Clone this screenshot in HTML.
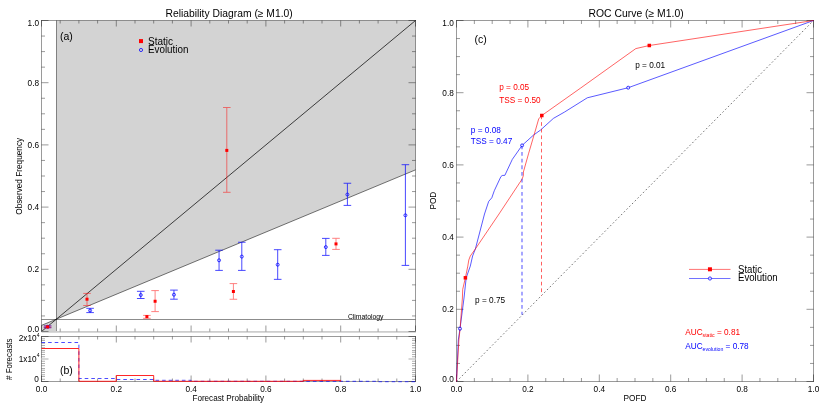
<!DOCTYPE html>
<html><head><meta charset="utf-8"><title>Reliability and ROC</title>
<style>
html,body{margin:0;padding:0;background:#fff;}
svg{display:block;font-family:"Liberation Sans",sans-serif;will-change:transform;}
</style></head>
<body>
<svg width="830" height="415" viewBox="0 0 830 415">
<rect width="830" height="415" fill="#fff"/>
<polygon points="56.27,20.5 415.5,20.5 415.5,169.86 56.27,319.22" fill="#d3d3d3"/>
<polygon points="41.5,325.36 56.27,319.22 56.27,331.5 41.5,331.5" fill="#d3d3d3"/>
<line x1="56.50" y1="20.50" x2="56.50" y2="331.50" stroke="#000" stroke-width="1" stroke-opacity="0.42"/>
<line x1="41.50" y1="319.50" x2="415.50" y2="319.50" stroke="#000" stroke-width="1" stroke-opacity="0.45"/>
<line x1="41.50" y1="325.36" x2="415.50" y2="169.86" stroke="#000" stroke-width="0.9" stroke-opacity="0.6"/>
<line x1="41.50" y1="331.50" x2="415.50" y2="20.50" stroke="#000" stroke-width="0.9" stroke-opacity="0.8"/>
<line x1="41.00" y1="20.50" x2="416.00" y2="20.50" stroke="#020202" stroke-width="1" stroke-opacity="0.4" />
<line x1="41.50" y1="20.50" x2="41.50" y2="331.50" stroke="#020202" stroke-width="1" stroke-opacity="0.4" />
<line x1="415.50" y1="20.50" x2="415.50" y2="331.50" stroke="#020202" stroke-width="1" stroke-opacity="0.4" />
<line x1="41.50" y1="331.90" x2="416.00" y2="331.90" stroke="#cdcdcd" stroke-width="1.8" />
<line x1="41.50" y1="331.50" x2="41.50" y2="325.50" stroke="#020202" stroke-width="1" stroke-opacity="0.4" />
<line x1="41.50" y1="20.50" x2="41.50" y2="26.50" stroke="#020202" stroke-width="1" stroke-opacity="0.4" />
<line x1="60.20" y1="331.50" x2="60.20" y2="328.50" stroke="#020202" stroke-width="1" stroke-opacity="0.4" />
<line x1="60.20" y1="20.50" x2="60.20" y2="23.50" stroke="#020202" stroke-width="1" stroke-opacity="0.4" />
<line x1="78.90" y1="331.50" x2="78.90" y2="328.50" stroke="#020202" stroke-width="1" stroke-opacity="0.4" />
<line x1="78.90" y1="20.50" x2="78.90" y2="23.50" stroke="#020202" stroke-width="1" stroke-opacity="0.4" />
<line x1="97.60" y1="331.50" x2="97.60" y2="328.50" stroke="#020202" stroke-width="1" stroke-opacity="0.4" />
<line x1="97.60" y1="20.50" x2="97.60" y2="23.50" stroke="#020202" stroke-width="1" stroke-opacity="0.4" />
<line x1="116.30" y1="331.50" x2="116.30" y2="325.50" stroke="#020202" stroke-width="1" stroke-opacity="0.4" />
<line x1="116.30" y1="20.50" x2="116.30" y2="26.50" stroke="#020202" stroke-width="1" stroke-opacity="0.4" />
<line x1="135.00" y1="331.50" x2="135.00" y2="328.50" stroke="#020202" stroke-width="1" stroke-opacity="0.4" />
<line x1="135.00" y1="20.50" x2="135.00" y2="23.50" stroke="#020202" stroke-width="1" stroke-opacity="0.4" />
<line x1="153.70" y1="331.50" x2="153.70" y2="328.50" stroke="#020202" stroke-width="1" stroke-opacity="0.4" />
<line x1="153.70" y1="20.50" x2="153.70" y2="23.50" stroke="#020202" stroke-width="1" stroke-opacity="0.4" />
<line x1="172.40" y1="331.50" x2="172.40" y2="328.50" stroke="#020202" stroke-width="1" stroke-opacity="0.4" />
<line x1="172.40" y1="20.50" x2="172.40" y2="23.50" stroke="#020202" stroke-width="1" stroke-opacity="0.4" />
<line x1="191.10" y1="331.50" x2="191.10" y2="325.50" stroke="#020202" stroke-width="1" stroke-opacity="0.4" />
<line x1="191.10" y1="20.50" x2="191.10" y2="26.50" stroke="#020202" stroke-width="1" stroke-opacity="0.4" />
<line x1="209.80" y1="331.50" x2="209.80" y2="328.50" stroke="#020202" stroke-width="1" stroke-opacity="0.4" />
<line x1="209.80" y1="20.50" x2="209.80" y2="23.50" stroke="#020202" stroke-width="1" stroke-opacity="0.4" />
<line x1="228.50" y1="331.50" x2="228.50" y2="328.50" stroke="#020202" stroke-width="1" stroke-opacity="0.4" />
<line x1="228.50" y1="20.50" x2="228.50" y2="23.50" stroke="#020202" stroke-width="1" stroke-opacity="0.4" />
<line x1="247.20" y1="331.50" x2="247.20" y2="328.50" stroke="#020202" stroke-width="1" stroke-opacity="0.4" />
<line x1="247.20" y1="20.50" x2="247.20" y2="23.50" stroke="#020202" stroke-width="1" stroke-opacity="0.4" />
<line x1="265.90" y1="331.50" x2="265.90" y2="325.50" stroke="#020202" stroke-width="1" stroke-opacity="0.4" />
<line x1="265.90" y1="20.50" x2="265.90" y2="26.50" stroke="#020202" stroke-width="1" stroke-opacity="0.4" />
<line x1="284.60" y1="331.50" x2="284.60" y2="328.50" stroke="#020202" stroke-width="1" stroke-opacity="0.4" />
<line x1="284.60" y1="20.50" x2="284.60" y2="23.50" stroke="#020202" stroke-width="1" stroke-opacity="0.4" />
<line x1="303.30" y1="331.50" x2="303.30" y2="328.50" stroke="#020202" stroke-width="1" stroke-opacity="0.4" />
<line x1="303.30" y1="20.50" x2="303.30" y2="23.50" stroke="#020202" stroke-width="1" stroke-opacity="0.4" />
<line x1="322.00" y1="331.50" x2="322.00" y2="328.50" stroke="#020202" stroke-width="1" stroke-opacity="0.4" />
<line x1="322.00" y1="20.50" x2="322.00" y2="23.50" stroke="#020202" stroke-width="1" stroke-opacity="0.4" />
<line x1="340.70" y1="331.50" x2="340.70" y2="325.50" stroke="#020202" stroke-width="1" stroke-opacity="0.4" />
<line x1="340.70" y1="20.50" x2="340.70" y2="26.50" stroke="#020202" stroke-width="1" stroke-opacity="0.4" />
<line x1="359.40" y1="331.50" x2="359.40" y2="328.50" stroke="#020202" stroke-width="1" stroke-opacity="0.4" />
<line x1="359.40" y1="20.50" x2="359.40" y2="23.50" stroke="#020202" stroke-width="1" stroke-opacity="0.4" />
<line x1="378.10" y1="331.50" x2="378.10" y2="328.50" stroke="#020202" stroke-width="1" stroke-opacity="0.4" />
<line x1="378.10" y1="20.50" x2="378.10" y2="23.50" stroke="#020202" stroke-width="1" stroke-opacity="0.4" />
<line x1="396.80" y1="331.50" x2="396.80" y2="328.50" stroke="#020202" stroke-width="1" stroke-opacity="0.4" />
<line x1="396.80" y1="20.50" x2="396.80" y2="23.50" stroke="#020202" stroke-width="1" stroke-opacity="0.4" />
<line x1="415.50" y1="331.50" x2="415.50" y2="325.50" stroke="#020202" stroke-width="1" stroke-opacity="0.4" />
<line x1="415.50" y1="20.50" x2="415.50" y2="26.50" stroke="#020202" stroke-width="1" stroke-opacity="0.4" />
<line x1="41.50" y1="331.50" x2="48.50" y2="331.50" stroke="#020202" stroke-width="1" stroke-opacity="0.4" />
<line x1="415.50" y1="331.50" x2="408.50" y2="331.50" stroke="#020202" stroke-width="1" stroke-opacity="0.4" />
<line x1="41.50" y1="315.95" x2="45.00" y2="315.95" stroke="#020202" stroke-width="1" stroke-opacity="0.4" />
<line x1="415.50" y1="315.95" x2="412.00" y2="315.95" stroke="#020202" stroke-width="1" stroke-opacity="0.4" />
<line x1="41.50" y1="300.40" x2="45.00" y2="300.40" stroke="#020202" stroke-width="1" stroke-opacity="0.4" />
<line x1="415.50" y1="300.40" x2="412.00" y2="300.40" stroke="#020202" stroke-width="1" stroke-opacity="0.4" />
<line x1="41.50" y1="284.85" x2="45.00" y2="284.85" stroke="#020202" stroke-width="1" stroke-opacity="0.4" />
<line x1="415.50" y1="284.85" x2="412.00" y2="284.85" stroke="#020202" stroke-width="1" stroke-opacity="0.4" />
<line x1="41.50" y1="269.30" x2="48.50" y2="269.30" stroke="#020202" stroke-width="1" stroke-opacity="0.4" />
<line x1="415.50" y1="269.30" x2="408.50" y2="269.30" stroke="#020202" stroke-width="1" stroke-opacity="0.4" />
<line x1="41.50" y1="253.75" x2="45.00" y2="253.75" stroke="#020202" stroke-width="1" stroke-opacity="0.4" />
<line x1="415.50" y1="253.75" x2="412.00" y2="253.75" stroke="#020202" stroke-width="1" stroke-opacity="0.4" />
<line x1="41.50" y1="238.20" x2="45.00" y2="238.20" stroke="#020202" stroke-width="1" stroke-opacity="0.4" />
<line x1="415.50" y1="238.20" x2="412.00" y2="238.20" stroke="#020202" stroke-width="1" stroke-opacity="0.4" />
<line x1="41.50" y1="222.65" x2="45.00" y2="222.65" stroke="#020202" stroke-width="1" stroke-opacity="0.4" />
<line x1="415.50" y1="222.65" x2="412.00" y2="222.65" stroke="#020202" stroke-width="1" stroke-opacity="0.4" />
<line x1="41.50" y1="207.10" x2="48.50" y2="207.10" stroke="#020202" stroke-width="1" stroke-opacity="0.4" />
<line x1="415.50" y1="207.10" x2="408.50" y2="207.10" stroke="#020202" stroke-width="1" stroke-opacity="0.4" />
<line x1="41.50" y1="191.55" x2="45.00" y2="191.55" stroke="#020202" stroke-width="1" stroke-opacity="0.4" />
<line x1="415.50" y1="191.55" x2="412.00" y2="191.55" stroke="#020202" stroke-width="1" stroke-opacity="0.4" />
<line x1="41.50" y1="176.00" x2="45.00" y2="176.00" stroke="#020202" stroke-width="1" stroke-opacity="0.4" />
<line x1="415.50" y1="176.00" x2="412.00" y2="176.00" stroke="#020202" stroke-width="1" stroke-opacity="0.4" />
<line x1="41.50" y1="160.45" x2="45.00" y2="160.45" stroke="#020202" stroke-width="1" stroke-opacity="0.4" />
<line x1="415.50" y1="160.45" x2="412.00" y2="160.45" stroke="#020202" stroke-width="1" stroke-opacity="0.4" />
<line x1="41.50" y1="144.90" x2="48.50" y2="144.90" stroke="#020202" stroke-width="1" stroke-opacity="0.4" />
<line x1="415.50" y1="144.90" x2="408.50" y2="144.90" stroke="#020202" stroke-width="1" stroke-opacity="0.4" />
<line x1="41.50" y1="129.35" x2="45.00" y2="129.35" stroke="#020202" stroke-width="1" stroke-opacity="0.4" />
<line x1="415.50" y1="129.35" x2="412.00" y2="129.35" stroke="#020202" stroke-width="1" stroke-opacity="0.4" />
<line x1="41.50" y1="113.80" x2="45.00" y2="113.80" stroke="#020202" stroke-width="1" stroke-opacity="0.4" />
<line x1="415.50" y1="113.80" x2="412.00" y2="113.80" stroke="#020202" stroke-width="1" stroke-opacity="0.4" />
<line x1="41.50" y1="98.25" x2="45.00" y2="98.25" stroke="#020202" stroke-width="1" stroke-opacity="0.4" />
<line x1="415.50" y1="98.25" x2="412.00" y2="98.25" stroke="#020202" stroke-width="1" stroke-opacity="0.4" />
<line x1="41.50" y1="82.70" x2="48.50" y2="82.70" stroke="#020202" stroke-width="1" stroke-opacity="0.4" />
<line x1="415.50" y1="82.70" x2="408.50" y2="82.70" stroke="#020202" stroke-width="1" stroke-opacity="0.4" />
<line x1="41.50" y1="67.15" x2="45.00" y2="67.15" stroke="#020202" stroke-width="1" stroke-opacity="0.4" />
<line x1="415.50" y1="67.15" x2="412.00" y2="67.15" stroke="#020202" stroke-width="1" stroke-opacity="0.4" />
<line x1="41.50" y1="51.60" x2="45.00" y2="51.60" stroke="#020202" stroke-width="1" stroke-opacity="0.4" />
<line x1="415.50" y1="51.60" x2="412.00" y2="51.60" stroke="#020202" stroke-width="1" stroke-opacity="0.4" />
<line x1="41.50" y1="36.05" x2="45.00" y2="36.05" stroke="#020202" stroke-width="1" stroke-opacity="0.4" />
<line x1="415.50" y1="36.05" x2="412.00" y2="36.05" stroke="#020202" stroke-width="1" stroke-opacity="0.4" />
<line x1="41.50" y1="20.50" x2="48.50" y2="20.50" stroke="#020202" stroke-width="1" stroke-opacity="0.4" />
<line x1="415.50" y1="20.50" x2="408.50" y2="20.50" stroke="#020202" stroke-width="1" stroke-opacity="0.4" />
<text transform="translate(39.00 331.80) scale(0.96 1.08)" font-size="8.6" text-anchor="end" fill="#000">0.0</text>
<text transform="translate(39.00 272.30) scale(0.96 1.08)" font-size="8.6" text-anchor="end" fill="#000">0.2</text>
<text transform="translate(39.00 210.10) scale(0.96 1.08)" font-size="8.6" text-anchor="end" fill="#000">0.4</text>
<text transform="translate(39.00 147.90) scale(0.96 1.08)" font-size="8.6" text-anchor="end" fill="#000">0.6</text>
<text transform="translate(39.00 85.70) scale(0.96 1.08)" font-size="8.6" text-anchor="end" fill="#000">0.8</text>
<text transform="translate(39.00 25.60) scale(0.96 1.08)" font-size="8.6" text-anchor="end" fill="#000">1.0</text>
<line x1="41.00" y1="336.50" x2="416.00" y2="336.50" stroke="#020202" stroke-width="1" stroke-opacity="0.4" />
<line x1="41.50" y1="336.50" x2="41.50" y2="381.50" stroke="#020202" stroke-width="1" stroke-opacity="0.4" />
<line x1="415.50" y1="336.50" x2="415.50" y2="381.50" stroke="#020202" stroke-width="1" stroke-opacity="0.4" />
<line x1="41.00" y1="381.50" x2="416.00" y2="381.50" stroke="#020202" stroke-width="1" stroke-opacity="0.4" />
<line x1="41.50" y1="381.50" x2="41.50" y2="375.50" stroke="#020202" stroke-width="1" stroke-opacity="0.4" />
<line x1="41.50" y1="336.50" x2="41.50" y2="342.50" stroke="#020202" stroke-width="1" stroke-opacity="0.4" />
<line x1="60.20" y1="381.50" x2="60.20" y2="378.50" stroke="#020202" stroke-width="1" stroke-opacity="0.4" />
<line x1="60.20" y1="336.50" x2="60.20" y2="339.50" stroke="#020202" stroke-width="1" stroke-opacity="0.4" />
<line x1="78.90" y1="381.50" x2="78.90" y2="378.50" stroke="#020202" stroke-width="1" stroke-opacity="0.4" />
<line x1="78.90" y1="336.50" x2="78.90" y2="339.50" stroke="#020202" stroke-width="1" stroke-opacity="0.4" />
<line x1="97.60" y1="381.50" x2="97.60" y2="378.50" stroke="#020202" stroke-width="1" stroke-opacity="0.4" />
<line x1="97.60" y1="336.50" x2="97.60" y2="339.50" stroke="#020202" stroke-width="1" stroke-opacity="0.4" />
<line x1="116.30" y1="381.50" x2="116.30" y2="375.50" stroke="#020202" stroke-width="1" stroke-opacity="0.4" />
<line x1="116.30" y1="336.50" x2="116.30" y2="342.50" stroke="#020202" stroke-width="1" stroke-opacity="0.4" />
<line x1="135.00" y1="381.50" x2="135.00" y2="378.50" stroke="#020202" stroke-width="1" stroke-opacity="0.4" />
<line x1="135.00" y1="336.50" x2="135.00" y2="339.50" stroke="#020202" stroke-width="1" stroke-opacity="0.4" />
<line x1="153.70" y1="381.50" x2="153.70" y2="378.50" stroke="#020202" stroke-width="1" stroke-opacity="0.4" />
<line x1="153.70" y1="336.50" x2="153.70" y2="339.50" stroke="#020202" stroke-width="1" stroke-opacity="0.4" />
<line x1="172.40" y1="381.50" x2="172.40" y2="378.50" stroke="#020202" stroke-width="1" stroke-opacity="0.4" />
<line x1="172.40" y1="336.50" x2="172.40" y2="339.50" stroke="#020202" stroke-width="1" stroke-opacity="0.4" />
<line x1="191.10" y1="381.50" x2="191.10" y2="375.50" stroke="#020202" stroke-width="1" stroke-opacity="0.4" />
<line x1="191.10" y1="336.50" x2="191.10" y2="342.50" stroke="#020202" stroke-width="1" stroke-opacity="0.4" />
<line x1="209.80" y1="381.50" x2="209.80" y2="378.50" stroke="#020202" stroke-width="1" stroke-opacity="0.4" />
<line x1="209.80" y1="336.50" x2="209.80" y2="339.50" stroke="#020202" stroke-width="1" stroke-opacity="0.4" />
<line x1="228.50" y1="381.50" x2="228.50" y2="378.50" stroke="#020202" stroke-width="1" stroke-opacity="0.4" />
<line x1="228.50" y1="336.50" x2="228.50" y2="339.50" stroke="#020202" stroke-width="1" stroke-opacity="0.4" />
<line x1="247.20" y1="381.50" x2="247.20" y2="378.50" stroke="#020202" stroke-width="1" stroke-opacity="0.4" />
<line x1="247.20" y1="336.50" x2="247.20" y2="339.50" stroke="#020202" stroke-width="1" stroke-opacity="0.4" />
<line x1="265.90" y1="381.50" x2="265.90" y2="375.50" stroke="#020202" stroke-width="1" stroke-opacity="0.4" />
<line x1="265.90" y1="336.50" x2="265.90" y2="342.50" stroke="#020202" stroke-width="1" stroke-opacity="0.4" />
<line x1="284.60" y1="381.50" x2="284.60" y2="378.50" stroke="#020202" stroke-width="1" stroke-opacity="0.4" />
<line x1="284.60" y1="336.50" x2="284.60" y2="339.50" stroke="#020202" stroke-width="1" stroke-opacity="0.4" />
<line x1="303.30" y1="381.50" x2="303.30" y2="378.50" stroke="#020202" stroke-width="1" stroke-opacity="0.4" />
<line x1="303.30" y1="336.50" x2="303.30" y2="339.50" stroke="#020202" stroke-width="1" stroke-opacity="0.4" />
<line x1="322.00" y1="381.50" x2="322.00" y2="378.50" stroke="#020202" stroke-width="1" stroke-opacity="0.4" />
<line x1="322.00" y1="336.50" x2="322.00" y2="339.50" stroke="#020202" stroke-width="1" stroke-opacity="0.4" />
<line x1="340.70" y1="381.50" x2="340.70" y2="375.50" stroke="#020202" stroke-width="1" stroke-opacity="0.4" />
<line x1="340.70" y1="336.50" x2="340.70" y2="342.50" stroke="#020202" stroke-width="1" stroke-opacity="0.4" />
<line x1="359.40" y1="381.50" x2="359.40" y2="378.50" stroke="#020202" stroke-width="1" stroke-opacity="0.4" />
<line x1="359.40" y1="336.50" x2="359.40" y2="339.50" stroke="#020202" stroke-width="1" stroke-opacity="0.4" />
<line x1="378.10" y1="381.50" x2="378.10" y2="378.50" stroke="#020202" stroke-width="1" stroke-opacity="0.4" />
<line x1="378.10" y1="336.50" x2="378.10" y2="339.50" stroke="#020202" stroke-width="1" stroke-opacity="0.4" />
<line x1="396.80" y1="381.50" x2="396.80" y2="378.50" stroke="#020202" stroke-width="1" stroke-opacity="0.4" />
<line x1="396.80" y1="336.50" x2="396.80" y2="339.50" stroke="#020202" stroke-width="1" stroke-opacity="0.4" />
<line x1="415.50" y1="381.50" x2="415.50" y2="375.50" stroke="#020202" stroke-width="1" stroke-opacity="0.4" />
<line x1="415.50" y1="336.50" x2="415.50" y2="342.50" stroke="#020202" stroke-width="1" stroke-opacity="0.4" />
<line x1="41.50" y1="381.50" x2="48.50" y2="381.50" stroke="#020202" stroke-width="1" stroke-opacity="0.4" />
<line x1="415.50" y1="381.50" x2="408.50" y2="381.50" stroke="#020202" stroke-width="1" stroke-opacity="0.4" />
<line x1="41.50" y1="379.25" x2="45.00" y2="379.25" stroke="#020202" stroke-width="0.8" stroke-opacity="0.4" />
<line x1="415.50" y1="379.25" x2="412.00" y2="379.25" stroke="#020202" stroke-width="0.8" stroke-opacity="0.4" />
<line x1="41.50" y1="376.50" x2="45.00" y2="376.50" stroke="#020202" stroke-width="0.8" stroke-opacity="0.4" />
<line x1="415.50" y1="376.50" x2="412.00" y2="376.50" stroke="#020202" stroke-width="0.8" stroke-opacity="0.4" />
<line x1="41.50" y1="374.75" x2="45.00" y2="374.75" stroke="#020202" stroke-width="0.8" stroke-opacity="0.4" />
<line x1="415.50" y1="374.75" x2="412.00" y2="374.75" stroke="#020202" stroke-width="0.8" stroke-opacity="0.4" />
<line x1="41.50" y1="372.50" x2="45.00" y2="372.50" stroke="#020202" stroke-width="0.8" stroke-opacity="0.4" />
<line x1="415.50" y1="372.50" x2="412.00" y2="372.50" stroke="#020202" stroke-width="0.8" stroke-opacity="0.4" />
<line x1="41.50" y1="370.25" x2="45.00" y2="370.25" stroke="#020202" stroke-width="0.8" stroke-opacity="0.4" />
<line x1="415.50" y1="370.25" x2="412.00" y2="370.25" stroke="#020202" stroke-width="0.8" stroke-opacity="0.4" />
<line x1="41.50" y1="368.50" x2="45.00" y2="368.50" stroke="#020202" stroke-width="0.8" stroke-opacity="0.4" />
<line x1="415.50" y1="368.50" x2="412.00" y2="368.50" stroke="#020202" stroke-width="0.8" stroke-opacity="0.4" />
<line x1="41.50" y1="365.75" x2="45.00" y2="365.75" stroke="#020202" stroke-width="0.8" stroke-opacity="0.4" />
<line x1="415.50" y1="365.75" x2="412.00" y2="365.75" stroke="#020202" stroke-width="0.8" stroke-opacity="0.4" />
<line x1="41.50" y1="363.50" x2="45.00" y2="363.50" stroke="#020202" stroke-width="0.8" stroke-opacity="0.4" />
<line x1="415.50" y1="363.50" x2="412.00" y2="363.50" stroke="#020202" stroke-width="0.8" stroke-opacity="0.4" />
<line x1="41.50" y1="361.25" x2="45.00" y2="361.25" stroke="#020202" stroke-width="0.8" stroke-opacity="0.4" />
<line x1="415.50" y1="361.25" x2="412.00" y2="361.25" stroke="#020202" stroke-width="0.8" stroke-opacity="0.4" />
<line x1="41.50" y1="359.00" x2="48.50" y2="359.00" stroke="#cdcdcd" stroke-width="1.6" />
<line x1="415.50" y1="359.00" x2="408.50" y2="359.00" stroke="#cdcdcd" stroke-width="1.6" />
<line x1="41.50" y1="356.75" x2="45.00" y2="356.75" stroke="#020202" stroke-width="0.8" stroke-opacity="0.4" />
<line x1="415.50" y1="356.75" x2="412.00" y2="356.75" stroke="#020202" stroke-width="0.8" stroke-opacity="0.4" />
<line x1="41.50" y1="354.50" x2="45.00" y2="354.50" stroke="#020202" stroke-width="0.8" stroke-opacity="0.4" />
<line x1="415.50" y1="354.50" x2="412.00" y2="354.50" stroke="#020202" stroke-width="0.8" stroke-opacity="0.4" />
<line x1="41.50" y1="352.25" x2="45.00" y2="352.25" stroke="#020202" stroke-width="0.8" stroke-opacity="0.4" />
<line x1="415.50" y1="352.25" x2="412.00" y2="352.25" stroke="#020202" stroke-width="0.8" stroke-opacity="0.4" />
<line x1="41.50" y1="350.50" x2="45.00" y2="350.50" stroke="#020202" stroke-width="0.8" stroke-opacity="0.4" />
<line x1="415.50" y1="350.50" x2="412.00" y2="350.50" stroke="#020202" stroke-width="0.8" stroke-opacity="0.4" />
<line x1="41.50" y1="347.75" x2="45.00" y2="347.75" stroke="#020202" stroke-width="0.8" stroke-opacity="0.4" />
<line x1="415.50" y1="347.75" x2="412.00" y2="347.75" stroke="#020202" stroke-width="0.8" stroke-opacity="0.4" />
<line x1="41.50" y1="345.50" x2="45.00" y2="345.50" stroke="#020202" stroke-width="0.8" stroke-opacity="0.4" />
<line x1="415.50" y1="345.50" x2="412.00" y2="345.50" stroke="#020202" stroke-width="0.8" stroke-opacity="0.4" />
<line x1="41.50" y1="343.25" x2="45.00" y2="343.25" stroke="#020202" stroke-width="0.8" stroke-opacity="0.4" />
<line x1="415.50" y1="343.25" x2="412.00" y2="343.25" stroke="#020202" stroke-width="0.8" stroke-opacity="0.4" />
<line x1="41.50" y1="340.50" x2="45.00" y2="340.50" stroke="#020202" stroke-width="0.8" stroke-opacity="0.4" />
<line x1="415.50" y1="340.50" x2="412.00" y2="340.50" stroke="#020202" stroke-width="0.8" stroke-opacity="0.4" />
<line x1="41.50" y1="338.75" x2="45.00" y2="338.75" stroke="#020202" stroke-width="0.8" stroke-opacity="0.4" />
<line x1="415.50" y1="338.75" x2="412.00" y2="338.75" stroke="#020202" stroke-width="0.8" stroke-opacity="0.4" />
<line x1="41.50" y1="336.50" x2="48.50" y2="336.50" stroke="#020202" stroke-width="1" stroke-opacity="0.4" />
<line x1="415.50" y1="336.50" x2="408.50" y2="336.50" stroke="#020202" stroke-width="1" stroke-opacity="0.4" />
<text transform="translate(41.50 392.10) scale(0.96 1)" font-size="8.6" text-anchor="middle" fill="#000">0.0</text>
<text transform="translate(116.30 392.10) scale(0.96 1)" font-size="8.6" text-anchor="middle" fill="#000">0.2</text>
<text transform="translate(191.10 392.10) scale(0.96 1)" font-size="8.6" text-anchor="middle" fill="#000">0.4</text>
<text transform="translate(265.90 392.10) scale(0.96 1)" font-size="8.6" text-anchor="middle" fill="#000">0.6</text>
<text transform="translate(340.70 392.10) scale(0.96 1)" font-size="8.6" text-anchor="middle" fill="#000">0.8</text>
<text transform="translate(415.50 392.10) scale(0.96 1)" font-size="8.6" text-anchor="middle" fill="#000">1.0</text>
<text transform="translate(228.30 401.00) scale(0.945 1)" font-size="8.6" text-anchor="middle" fill="#000">Forecast Probability</text>
<text transform="translate(21.50 176.30) rotate(-90) scale(0.96 1)" font-size="8.6" text-anchor="middle" fill="#000">Observed Frequency</text>
<text transform="translate(12.10 359.20) rotate(-90) scale(0.925 1)" font-size="8.6" text-anchor="middle" fill="#000"># Forecasts</text>
<text transform="translate(39.4 340.9) scale(0.96 1)" font-size="8.6" text-anchor="end" fill="#000">2x10<tspan font-size="5.2" dy="-4.1">4</tspan></text>
<text transform="translate(39.4 361.5) scale(0.96 1)" font-size="8.6" text-anchor="end" fill="#000">1x10<tspan font-size="5.2" dy="-4.1">4</tspan></text>
<text transform="translate(38.90 381.70) scale(0.96 1)" font-size="8.6" text-anchor="end" fill="#000">0</text>
<polyline points="41.50,342.50 78.90,342.50 78.90,378.50 116.30,378.50 116.30,379.50 153.70,379.50 153.70,380.30 191.10,380.30 191.10,381.30 228.50,381.30 228.50,381.30 265.90,381.30 265.90,381.30 303.30,381.30 303.30,381.30 340.70,381.30 340.70,381.30 378.10,381.30 378.10,381.70 415.50,381.70" fill="none" stroke="#0000ff" stroke-width="1" stroke-dasharray="3.6 3" opacity="0.7"/>
<polyline points="41.50,348.50 78.90,348.50 78.90,381.30 116.30,381.30 116.30,375.50 153.70,375.50 153.70,381.30 191.10,381.30 191.10,381.30 228.50,381.30 228.50,381.30 265.90,381.30 265.90,381.30 303.30,381.30 303.30,380.40 340.70,380.40 340.70,381.50" fill="none" stroke="#ff0000" stroke-width="1" opacity="0.85"/>
<text transform="translate(60.00 39.60) scale(1 1)" font-size="10.5" text-anchor="start" fill="#000">(a)</text>
<text transform="translate(60.00 374.40) scale(1 1)" font-size="10.5" text-anchor="start" fill="#000">(b)</text>
<text transform="translate(347.90 319.10) scale(0.975 1)" font-size="7" text-anchor="start" fill="#000">Climatology</text>
<text transform="translate(229.10 16.70) scale(0.975 1)" font-size="10.6" text-anchor="middle" fill="#000">Reliability Diagram (≥ M1.0)</text>
<rect x="139.00" y="39.10" width="4.0" height="4.0" fill="#ff0000"/>
<circle cx="141.00" cy="50.00" r="1.6" fill="none" stroke="#0000ff" stroke-width="0.95" stroke-opacity="0.8"/>
<text transform="translate(148.00 44.80) scale(1 1)" font-size="10" text-anchor="start" fill="#000">Static</text>
<text transform="translate(148.00 53.20) scale(0.985 1)" font-size="10" text-anchor="start" fill="#000">Evolution</text>
<g stroke="#0000ff" stroke-width="0.9" opacity="0.8"><line x1="47.6" y1="325.9" x2="47.6" y2="327.7"/><line x1="43.800000000000004" y1="325.9" x2="51.4" y2="325.9"/><line x1="43.800000000000004" y1="327.7" x2="51.4" y2="327.7"/></g>
<circle cx="47.60" cy="326.80" r="1.5" fill="none" stroke="#0000ff" stroke-width="0.95" stroke-opacity="0.8"/>
<g stroke="#0000ff" stroke-width="0.9" opacity="0.8"><line x1="90.1" y1="308.3" x2="90.1" y2="312.6"/><line x1="86.3" y1="308.3" x2="93.89999999999999" y2="308.3"/><line x1="86.3" y1="312.6" x2="93.89999999999999" y2="312.6"/></g>
<circle cx="90.10" cy="310.50" r="1.5" fill="none" stroke="#0000ff" stroke-width="0.95" stroke-opacity="0.8"/>
<g stroke="#0000ff" stroke-width="0.9" opacity="0.8"><line x1="140.75" y1="291.3" x2="140.75" y2="298.5"/><line x1="136.95" y1="291.3" x2="144.55" y2="291.3"/><line x1="136.95" y1="298.5" x2="144.55" y2="298.5"/></g>
<circle cx="140.75" cy="295.00" r="1.5" fill="none" stroke="#0000ff" stroke-width="0.95" stroke-opacity="0.8"/>
<g stroke="#0000ff" stroke-width="0.9" opacity="0.8"><line x1="173.95" y1="290.1" x2="173.95" y2="299.2"/><line x1="170.14999999999998" y1="290.1" x2="177.75" y2="290.1"/><line x1="170.14999999999998" y1="299.2" x2="177.75" y2="299.2"/></g>
<circle cx="173.95" cy="294.70" r="1.5" fill="none" stroke="#0000ff" stroke-width="0.95" stroke-opacity="0.8"/>
<g stroke="#0000ff" stroke-width="0.9" opacity="0.8"><line x1="219.05" y1="250.2" x2="219.05" y2="270.4"/><line x1="215.25" y1="250.2" x2="222.85000000000002" y2="250.2"/><line x1="215.25" y1="270.4" x2="222.85000000000002" y2="270.4"/></g>
<circle cx="219.05" cy="260.30" r="1.5" fill="none" stroke="#0000ff" stroke-width="0.95" stroke-opacity="0.8"/>
<g stroke="#0000ff" stroke-width="0.9" opacity="0.8"><line x1="241.8" y1="242.25" x2="241.8" y2="270.4"/><line x1="238.0" y1="242.25" x2="245.60000000000002" y2="242.25"/><line x1="238.0" y1="270.4" x2="245.60000000000002" y2="270.4"/></g>
<circle cx="241.80" cy="256.60" r="1.5" fill="none" stroke="#0000ff" stroke-width="0.95" stroke-opacity="0.8"/>
<g stroke="#0000ff" stroke-width="0.9" opacity="0.8"><line x1="277.7" y1="249.7" x2="277.7" y2="279.35"/><line x1="273.9" y1="249.7" x2="281.5" y2="249.7"/><line x1="273.9" y1="279.35" x2="281.5" y2="279.35"/></g>
<circle cx="277.70" cy="264.70" r="1.5" fill="none" stroke="#0000ff" stroke-width="0.95" stroke-opacity="0.8"/>
<g stroke="#0000ff" stroke-width="0.9" opacity="0.8"><line x1="325.8" y1="238.4" x2="325.8" y2="255.4"/><line x1="322.0" y1="238.4" x2="329.6" y2="238.4"/><line x1="322.0" y1="255.4" x2="329.6" y2="255.4"/></g>
<circle cx="325.80" cy="247.10" r="1.5" fill="none" stroke="#0000ff" stroke-width="0.95" stroke-opacity="0.8"/>
<g stroke="#0000ff" stroke-width="0.9" opacity="0.8"><line x1="347.4" y1="183.25" x2="347.4" y2="205.4"/><line x1="343.59999999999997" y1="183.25" x2="351.2" y2="183.25"/><line x1="343.59999999999997" y1="205.4" x2="351.2" y2="205.4"/></g>
<circle cx="347.40" cy="194.50" r="1.5" fill="none" stroke="#0000ff" stroke-width="0.95" stroke-opacity="0.8"/>
<g stroke="#0000ff" stroke-width="0.9" opacity="0.8"><line x1="405.4" y1="164.7" x2="405.4" y2="265.4"/><line x1="401.59999999999997" y1="164.7" x2="409.2" y2="164.7"/><line x1="401.59999999999997" y1="265.4" x2="409.2" y2="265.4"/></g>
<circle cx="405.40" cy="215.30" r="1.5" fill="none" stroke="#0000ff" stroke-width="0.95" stroke-opacity="0.8"/>
<g stroke="#ff0000" stroke-width="0.9" opacity="0.55"><line x1="47.6" y1="326.1" x2="47.6" y2="327.7"/><line x1="43.800000000000004" y1="326.1" x2="51.4" y2="326.1"/><line x1="43.800000000000004" y1="327.7" x2="51.4" y2="327.7"/></g>
<rect x="46.10" y="325.40" width="3.0" height="3.0" fill="#ff0000"/>
<g stroke="#ff0000" stroke-width="0.9" opacity="0.55"><line x1="87" y1="293.4" x2="87" y2="305.5"/><line x1="83.2" y1="293.4" x2="90.8" y2="293.4"/><line x1="83.2" y1="305.5" x2="90.8" y2="305.5"/></g>
<rect x="85.50" y="297.70" width="3.0" height="3.0" fill="#ff0000"/>
<g stroke="#ff0000" stroke-width="0.9" opacity="0.55"><line x1="146.9" y1="315.4" x2="146.9" y2="318.3"/><line x1="143.1" y1="315.4" x2="150.70000000000002" y2="315.4"/><line x1="143.1" y1="318.3" x2="150.70000000000002" y2="318.3"/></g>
<rect x="145.40" y="315.10" width="3.0" height="3.0" fill="#ff0000"/>
<g stroke="#ff0000" stroke-width="0.9" opacity="0.55"><line x1="155.1" y1="290.6" x2="155.1" y2="311.6"/><line x1="151.29999999999998" y1="290.6" x2="158.9" y2="290.6"/><line x1="151.29999999999998" y1="311.6" x2="158.9" y2="311.6"/></g>
<rect x="153.60" y="299.75" width="3.0" height="3.0" fill="#ff0000"/>
<g stroke="#ff0000" stroke-width="0.9" opacity="0.55"><line x1="233.4" y1="283.6" x2="233.4" y2="299.25"/><line x1="229.6" y1="283.6" x2="237.20000000000002" y2="283.6"/><line x1="229.6" y1="299.25" x2="237.20000000000002" y2="299.25"/></g>
<rect x="231.90" y="290.00" width="3.0" height="3.0" fill="#ff0000"/>
<g stroke="#ff0000" stroke-width="0.9" opacity="0.55"><line x1="226.8" y1="107.5" x2="226.8" y2="192.3"/><line x1="223.0" y1="107.5" x2="230.60000000000002" y2="107.5"/><line x1="223.0" y1="192.3" x2="230.60000000000002" y2="192.3"/></g>
<rect x="225.30" y="148.90" width="3.0" height="3.0" fill="#ff0000"/>
<g stroke="#ff0000" stroke-width="0.9" opacity="0.55"><line x1="336" y1="238.3" x2="336" y2="249.4"/><line x1="332.2" y1="238.3" x2="339.8" y2="238.3"/><line x1="332.2" y1="249.4" x2="339.8" y2="249.4"/></g>
<rect x="334.50" y="242.40" width="3.0" height="3.0" fill="#ff0000"/>
<line x1="456.00" y1="20.50" x2="814.00" y2="20.50" stroke="#020202" stroke-width="1" stroke-opacity="0.4" />
<line x1="456.50" y1="20.50" x2="456.50" y2="381.50" stroke="#020202" stroke-width="1" stroke-opacity="0.4" />
<line x1="813.50" y1="20.50" x2="813.50" y2="381.50" stroke="#020202" stroke-width="1" stroke-opacity="0.4" />
<line x1="456.00" y1="381.50" x2="814.00" y2="381.50" stroke="#020202" stroke-width="1" stroke-opacity="0.4" />
<line x1="456.50" y1="381.50" x2="456.50" y2="374.50" stroke="#020202" stroke-width="1" stroke-opacity="0.4" />
<line x1="456.50" y1="20.50" x2="456.50" y2="27.50" stroke="#020202" stroke-width="1" stroke-opacity="0.4" />
<line x1="456.50" y1="381.50" x2="463.50" y2="381.50" stroke="#020202" stroke-width="1" stroke-opacity="0.4" />
<line x1="813.50" y1="381.50" x2="806.50" y2="381.50" stroke="#020202" stroke-width="1" stroke-opacity="0.4" />
<line x1="474.35" y1="381.50" x2="474.35" y2="378.00" stroke="#020202" stroke-width="1" stroke-opacity="0.4" />
<line x1="474.35" y1="20.50" x2="474.35" y2="24.00" stroke="#020202" stroke-width="1" stroke-opacity="0.4" />
<line x1="456.50" y1="363.45" x2="460.00" y2="363.45" stroke="#020202" stroke-width="1" stroke-opacity="0.4" />
<line x1="813.50" y1="363.45" x2="810.00" y2="363.45" stroke="#020202" stroke-width="1" stroke-opacity="0.4" />
<line x1="492.20" y1="381.50" x2="492.20" y2="378.00" stroke="#020202" stroke-width="1" stroke-opacity="0.4" />
<line x1="492.20" y1="20.50" x2="492.20" y2="24.00" stroke="#020202" stroke-width="1" stroke-opacity="0.4" />
<line x1="456.50" y1="345.40" x2="460.00" y2="345.40" stroke="#020202" stroke-width="1" stroke-opacity="0.4" />
<line x1="813.50" y1="345.40" x2="810.00" y2="345.40" stroke="#020202" stroke-width="1" stroke-opacity="0.4" />
<line x1="510.05" y1="381.50" x2="510.05" y2="378.00" stroke="#020202" stroke-width="1" stroke-opacity="0.4" />
<line x1="510.05" y1="20.50" x2="510.05" y2="24.00" stroke="#020202" stroke-width="1" stroke-opacity="0.4" />
<line x1="456.50" y1="327.35" x2="460.00" y2="327.35" stroke="#020202" stroke-width="1" stroke-opacity="0.4" />
<line x1="813.50" y1="327.35" x2="810.00" y2="327.35" stroke="#020202" stroke-width="1" stroke-opacity="0.4" />
<line x1="527.90" y1="381.50" x2="527.90" y2="374.50" stroke="#020202" stroke-width="1" stroke-opacity="0.4" />
<line x1="527.90" y1="20.50" x2="527.90" y2="27.50" stroke="#020202" stroke-width="1" stroke-opacity="0.4" />
<line x1="456.50" y1="309.30" x2="463.50" y2="309.30" stroke="#020202" stroke-width="1" stroke-opacity="0.4" />
<line x1="813.50" y1="309.30" x2="806.50" y2="309.30" stroke="#020202" stroke-width="1" stroke-opacity="0.4" />
<line x1="545.75" y1="381.50" x2="545.75" y2="378.00" stroke="#020202" stroke-width="1" stroke-opacity="0.4" />
<line x1="545.75" y1="20.50" x2="545.75" y2="24.00" stroke="#020202" stroke-width="1" stroke-opacity="0.4" />
<line x1="456.50" y1="291.25" x2="460.00" y2="291.25" stroke="#020202" stroke-width="1" stroke-opacity="0.4" />
<line x1="813.50" y1="291.25" x2="810.00" y2="291.25" stroke="#020202" stroke-width="1" stroke-opacity="0.4" />
<line x1="563.60" y1="381.50" x2="563.60" y2="378.00" stroke="#020202" stroke-width="1" stroke-opacity="0.4" />
<line x1="563.60" y1="20.50" x2="563.60" y2="24.00" stroke="#020202" stroke-width="1" stroke-opacity="0.4" />
<line x1="456.50" y1="273.20" x2="460.00" y2="273.20" stroke="#020202" stroke-width="1" stroke-opacity="0.4" />
<line x1="813.50" y1="273.20" x2="810.00" y2="273.20" stroke="#020202" stroke-width="1" stroke-opacity="0.4" />
<line x1="581.45" y1="381.50" x2="581.45" y2="378.00" stroke="#020202" stroke-width="1" stroke-opacity="0.4" />
<line x1="581.45" y1="20.50" x2="581.45" y2="24.00" stroke="#020202" stroke-width="1" stroke-opacity="0.4" />
<line x1="456.50" y1="255.15" x2="460.00" y2="255.15" stroke="#020202" stroke-width="1" stroke-opacity="0.4" />
<line x1="813.50" y1="255.15" x2="810.00" y2="255.15" stroke="#020202" stroke-width="1" stroke-opacity="0.4" />
<line x1="599.30" y1="381.50" x2="599.30" y2="374.50" stroke="#020202" stroke-width="1" stroke-opacity="0.4" />
<line x1="599.30" y1="20.50" x2="599.30" y2="27.50" stroke="#020202" stroke-width="1" stroke-opacity="0.4" />
<line x1="456.50" y1="237.10" x2="463.50" y2="237.10" stroke="#020202" stroke-width="1" stroke-opacity="0.4" />
<line x1="813.50" y1="237.10" x2="806.50" y2="237.10" stroke="#020202" stroke-width="1" stroke-opacity="0.4" />
<line x1="617.15" y1="381.50" x2="617.15" y2="378.00" stroke="#020202" stroke-width="1" stroke-opacity="0.4" />
<line x1="617.15" y1="20.50" x2="617.15" y2="24.00" stroke="#020202" stroke-width="1" stroke-opacity="0.4" />
<line x1="456.50" y1="219.05" x2="460.00" y2="219.05" stroke="#020202" stroke-width="1" stroke-opacity="0.4" />
<line x1="813.50" y1="219.05" x2="810.00" y2="219.05" stroke="#020202" stroke-width="1" stroke-opacity="0.4" />
<line x1="635.00" y1="381.50" x2="635.00" y2="378.00" stroke="#020202" stroke-width="1" stroke-opacity="0.4" />
<line x1="635.00" y1="20.50" x2="635.00" y2="24.00" stroke="#020202" stroke-width="1" stroke-opacity="0.4" />
<line x1="456.50" y1="201.00" x2="460.00" y2="201.00" stroke="#020202" stroke-width="1" stroke-opacity="0.4" />
<line x1="813.50" y1="201.00" x2="810.00" y2="201.00" stroke="#020202" stroke-width="1" stroke-opacity="0.4" />
<line x1="652.85" y1="381.50" x2="652.85" y2="378.00" stroke="#020202" stroke-width="1" stroke-opacity="0.4" />
<line x1="652.85" y1="20.50" x2="652.85" y2="24.00" stroke="#020202" stroke-width="1" stroke-opacity="0.4" />
<line x1="456.50" y1="182.95" x2="460.00" y2="182.95" stroke="#020202" stroke-width="1" stroke-opacity="0.4" />
<line x1="813.50" y1="182.95" x2="810.00" y2="182.95" stroke="#020202" stroke-width="1" stroke-opacity="0.4" />
<line x1="670.70" y1="381.50" x2="670.70" y2="374.50" stroke="#020202" stroke-width="1" stroke-opacity="0.4" />
<line x1="670.70" y1="20.50" x2="670.70" y2="27.50" stroke="#020202" stroke-width="1" stroke-opacity="0.4" />
<line x1="456.50" y1="164.90" x2="463.50" y2="164.90" stroke="#020202" stroke-width="1" stroke-opacity="0.4" />
<line x1="813.50" y1="164.90" x2="806.50" y2="164.90" stroke="#020202" stroke-width="1" stroke-opacity="0.4" />
<line x1="688.55" y1="381.50" x2="688.55" y2="378.00" stroke="#020202" stroke-width="1" stroke-opacity="0.4" />
<line x1="688.55" y1="20.50" x2="688.55" y2="24.00" stroke="#020202" stroke-width="1" stroke-opacity="0.4" />
<line x1="456.50" y1="146.85" x2="460.00" y2="146.85" stroke="#020202" stroke-width="1" stroke-opacity="0.4" />
<line x1="813.50" y1="146.85" x2="810.00" y2="146.85" stroke="#020202" stroke-width="1" stroke-opacity="0.4" />
<line x1="706.40" y1="381.50" x2="706.40" y2="378.00" stroke="#020202" stroke-width="1" stroke-opacity="0.4" />
<line x1="706.40" y1="20.50" x2="706.40" y2="24.00" stroke="#020202" stroke-width="1" stroke-opacity="0.4" />
<line x1="456.50" y1="128.80" x2="460.00" y2="128.80" stroke="#020202" stroke-width="1" stroke-opacity="0.4" />
<line x1="813.50" y1="128.80" x2="810.00" y2="128.80" stroke="#020202" stroke-width="1" stroke-opacity="0.4" />
<line x1="724.25" y1="381.50" x2="724.25" y2="378.00" stroke="#020202" stroke-width="1" stroke-opacity="0.4" />
<line x1="724.25" y1="20.50" x2="724.25" y2="24.00" stroke="#020202" stroke-width="1" stroke-opacity="0.4" />
<line x1="456.50" y1="110.75" x2="460.00" y2="110.75" stroke="#020202" stroke-width="1" stroke-opacity="0.4" />
<line x1="813.50" y1="110.75" x2="810.00" y2="110.75" stroke="#020202" stroke-width="1" stroke-opacity="0.4" />
<line x1="742.10" y1="381.50" x2="742.10" y2="374.50" stroke="#020202" stroke-width="1" stroke-opacity="0.4" />
<line x1="742.10" y1="20.50" x2="742.10" y2="27.50" stroke="#020202" stroke-width="1" stroke-opacity="0.4" />
<line x1="456.50" y1="92.70" x2="463.50" y2="92.70" stroke="#020202" stroke-width="1" stroke-opacity="0.4" />
<line x1="813.50" y1="92.70" x2="806.50" y2="92.70" stroke="#020202" stroke-width="1" stroke-opacity="0.4" />
<line x1="759.95" y1="381.50" x2="759.95" y2="378.00" stroke="#020202" stroke-width="1" stroke-opacity="0.4" />
<line x1="759.95" y1="20.50" x2="759.95" y2="24.00" stroke="#020202" stroke-width="1" stroke-opacity="0.4" />
<line x1="456.50" y1="74.65" x2="460.00" y2="74.65" stroke="#020202" stroke-width="1" stroke-opacity="0.4" />
<line x1="813.50" y1="74.65" x2="810.00" y2="74.65" stroke="#020202" stroke-width="1" stroke-opacity="0.4" />
<line x1="777.80" y1="381.50" x2="777.80" y2="378.00" stroke="#020202" stroke-width="1" stroke-opacity="0.4" />
<line x1="777.80" y1="20.50" x2="777.80" y2="24.00" stroke="#020202" stroke-width="1" stroke-opacity="0.4" />
<line x1="456.50" y1="56.60" x2="460.00" y2="56.60" stroke="#020202" stroke-width="1" stroke-opacity="0.4" />
<line x1="813.50" y1="56.60" x2="810.00" y2="56.60" stroke="#020202" stroke-width="1" stroke-opacity="0.4" />
<line x1="795.65" y1="381.50" x2="795.65" y2="378.00" stroke="#020202" stroke-width="1" stroke-opacity="0.4" />
<line x1="795.65" y1="20.50" x2="795.65" y2="24.00" stroke="#020202" stroke-width="1" stroke-opacity="0.4" />
<line x1="456.50" y1="38.55" x2="460.00" y2="38.55" stroke="#020202" stroke-width="1" stroke-opacity="0.4" />
<line x1="813.50" y1="38.55" x2="810.00" y2="38.55" stroke="#020202" stroke-width="1" stroke-opacity="0.4" />
<line x1="813.50" y1="381.50" x2="813.50" y2="374.50" stroke="#020202" stroke-width="1" stroke-opacity="0.4" />
<line x1="813.50" y1="20.50" x2="813.50" y2="27.50" stroke="#020202" stroke-width="1" stroke-opacity="0.4" />
<line x1="456.50" y1="20.50" x2="463.50" y2="20.50" stroke="#020202" stroke-width="1" stroke-opacity="0.4" />
<line x1="813.50" y1="20.50" x2="806.50" y2="20.50" stroke="#020202" stroke-width="1" stroke-opacity="0.4" />
<text transform="translate(456.50 392.10) scale(0.96 1)" font-size="8.6" text-anchor="middle" fill="#000">0.0</text>
<text transform="translate(453.80 381.80) scale(0.96 1.08)" font-size="8.6" text-anchor="end" fill="#000">0.0</text>
<text transform="translate(527.90 392.10) scale(0.96 1)" font-size="8.6" text-anchor="middle" fill="#000">0.2</text>
<text transform="translate(453.80 312.30) scale(0.96 1.08)" font-size="8.6" text-anchor="end" fill="#000">0.2</text>
<text transform="translate(599.30 392.10) scale(0.96 1)" font-size="8.6" text-anchor="middle" fill="#000">0.4</text>
<text transform="translate(453.80 240.10) scale(0.96 1.08)" font-size="8.6" text-anchor="end" fill="#000">0.4</text>
<text transform="translate(670.70 392.10) scale(0.96 1)" font-size="8.6" text-anchor="middle" fill="#000">0.6</text>
<text transform="translate(453.80 167.90) scale(0.96 1.08)" font-size="8.6" text-anchor="end" fill="#000">0.6</text>
<text transform="translate(742.10 392.10) scale(0.96 1)" font-size="8.6" text-anchor="middle" fill="#000">0.8</text>
<text transform="translate(453.80 95.70) scale(0.96 1.08)" font-size="8.6" text-anchor="end" fill="#000">0.8</text>
<text transform="translate(813.50 392.10) scale(0.96 1)" font-size="8.6" text-anchor="middle" fill="#000">1.0</text>
<text transform="translate(453.80 25.60) scale(0.96 1.08)" font-size="8.6" text-anchor="end" fill="#000">1.0</text>
<text transform="translate(635.00 401.00) scale(0.96 1)" font-size="8.6" text-anchor="middle" fill="#000">POFD</text>
<text transform="translate(436.10 200.60) rotate(-90) scale(0.96 1)" font-size="8.6" text-anchor="middle" fill="#000">POD</text>
<text transform="translate(636.10 16.70) scale(0.98 1)" font-size="10.6" text-anchor="middle" fill="#000">ROC Curve (≥ M1.0)</text>
<text transform="translate(474.60 42.60) scale(1 1)" font-size="10.5" text-anchor="start" fill="#000">(c)</text>
<line x1="456.50" y1="381.50" x2="813.50" y2="20.50" stroke="#000" stroke-width="0.9" stroke-dasharray="1.6 2.3" stroke-opacity="0.62"/>
<polyline points="456.5,381.5 458.3,340 460,328.7 464,298 466.2,277.8 470.3,266.1 472.6,256 475.4,248.9 484.5,214 488.7,201.4 491.8,197.8 494.3,190.7 500.9,176.6 502.2,175.5 504.9,175.3 506.4,172 512.3,159.4 522.1,145.4 533.5,135.1 540.6,130 553.4,118.4 564.6,112 587.3,97.8 628.3,87.7 813.5,20.5" fill="none" stroke="#0000ff" stroke-width="0.9" opacity="0.72" stroke-linejoin="round" />
<polyline points="456.5,381.5 458.9,340 460.1,328.7 462.4,298 462.7,289.4 465.4,277.8 467.8,266.1 468.8,260 470.3,256 475.4,248.9 499.0,214 522.1,179.1 523.4,175.5 523.4,172 528.5,153.8 535.5,130 538.7,118.9 541.8,115.5 580.7,88 635.8,48.6 649.3,45.5 813.5,20.5" fill="none" stroke="#ff0000" stroke-width="0.9" opacity="0.68" stroke-linejoin="round" />
<line x1="522.00" y1="145.40" x2="522.00" y2="314.70" stroke="#0000ff" stroke-width="1.6" stroke-dasharray="3.8 2.85" opacity="0.43"/>
<line x1="541.50" y1="115.50" x2="541.50" y2="295.58" stroke="#ff0000" stroke-width="1" stroke-dasharray="3.7 2.95" opacity="0.62"/>
<rect x="463.65" y="276.05" width="3.5" height="3.5" fill="#ff0000"/>
<rect x="540.05" y="113.75" width="3.5" height="3.5" fill="#ff0000"/>
<rect x="647.55" y="43.75" width="3.5" height="3.5" fill="#ff0000"/>
<circle cx="460" cy="328.7" r="1.1" fill="#fff" fill-opacity="0.75"/>
<circle cx="460.00" cy="328.70" r="1.5" fill="none" stroke="#0000ff" stroke-width="0.95" stroke-opacity="0.8"/>
<circle cx="522.1" cy="145.4" r="1.1" fill="#fff" fill-opacity="0.75"/>
<circle cx="522.10" cy="145.40" r="1.5" fill="none" stroke="#0000ff" stroke-width="0.95" stroke-opacity="0.8"/>
<circle cx="628.2" cy="87.7" r="1.1" fill="#fff" fill-opacity="0.75"/>
<circle cx="628.20" cy="87.70" r="1.5" fill="none" stroke="#0000ff" stroke-width="0.95" stroke-opacity="0.8"/>
<text transform="translate(499.20 89.50) scale(0.96 1)" font-size="8.6" text-anchor="start" fill="#ff0000">p = 0.05</text>
<text transform="translate(499.20 103.00) scale(0.96 1)" font-size="8.6" text-anchor="start" fill="#ff0000">TSS = 0.50</text>
<text transform="translate(470.80 132.80) scale(0.96 1)" font-size="8.6" text-anchor="start" fill="#0000ff">p = 0.08</text>
<text transform="translate(470.80 143.50) scale(0.96 1)" font-size="8.6" text-anchor="start" fill="#0000ff">TSS = 0.47</text>
<text transform="translate(635.20 67.70) scale(0.96 1)" font-size="8.6" text-anchor="start" fill="#000">p = 0.01</text>
<text transform="translate(475.10 302.50) scale(0.96 1)" font-size="8.6" text-anchor="start" fill="#000">p = 0.75</text>
<line x1="689.00" y1="269.40" x2="730.50" y2="269.40" stroke="#ff0000" stroke-width="1" opacity="0.55"/>
<rect x="707.95" y="267.30" width="4" height="4" fill="#ff0000"/>
<line x1="689.00" y1="278.50" x2="730.50" y2="278.50" stroke="#0000ff" stroke-width="1" opacity="0.55"/>
<circle cx="709.95" cy="278.5" r="1.5" fill="#fff" fill-opacity="0.7"/>
<circle cx="709.95" cy="278.50" r="1.6" fill="none" stroke="#0000ff" stroke-width="0.95" stroke-opacity="0.8"/>
<text transform="translate(738.00 272.70) scale(0.96 1)" font-size="10" text-anchor="start" fill="#000">Static</text>
<text transform="translate(738.00 281.30) scale(0.965 1)" font-size="10" text-anchor="start" fill="#000">Evolution</text>
<text transform="translate(685.2 334.5) scale(0.96 1)" font-size="8.6" fill="#ff0000">AUC<tspan font-size="5.4" dy="2.2">static</tspan><tspan dy="-2.2" font-size="8.6"> = 0.81</tspan></text>
<text transform="translate(685.2 348.9) scale(0.96 1)" font-size="8.6" fill="#0000ff">AUC<tspan font-size="5.4" dy="2.2">evolution</tspan><tspan dy="-2.2" font-size="8.6"> = 0.78</tspan></text>
</svg>
</body></html>
